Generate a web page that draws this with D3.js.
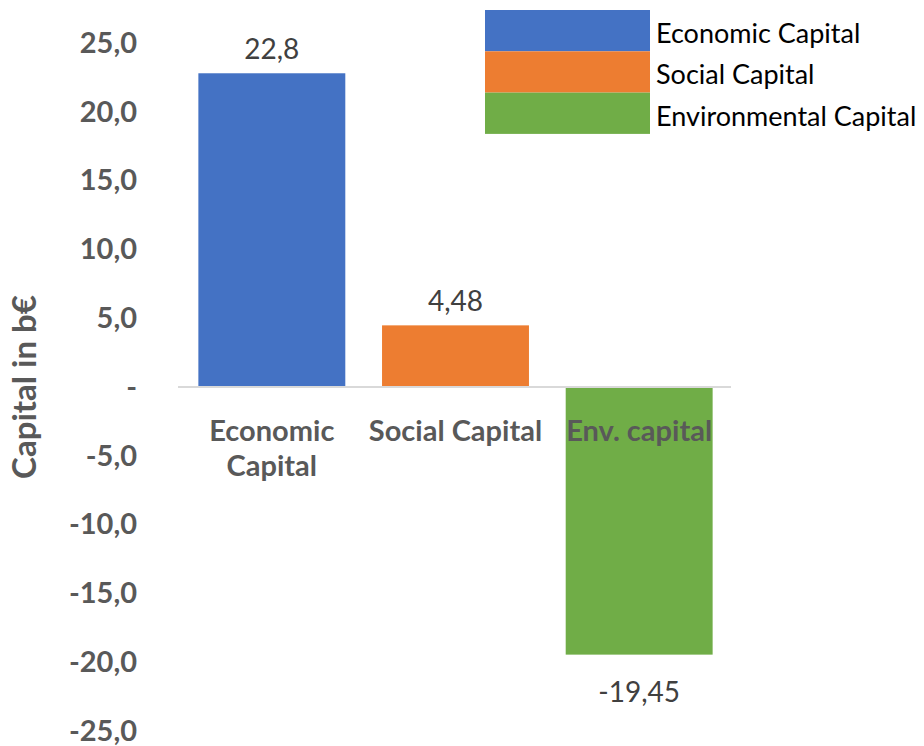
<!DOCTYPE html>
<html><head><meta charset="utf-8">
<script src="https://cdn.jsdelivr.net/npm/d3@7"></script>
<style>body{margin:0;background:#fff}svg{display:block}</style>
</head><body>
<script>
const categories = ["Economic Capital", "Social Capital", "Env. capital"];
const values = [22.8, 4.48, -19.45];
const valueLabels = ["22,8", "4,48", "-19,45"];
const colors = ["#4472C4", "#ED7D31", "#70AD47"];
const legendNames = ["Economic Capital", "Social Capital", "Environmental Capital"];
const yTicks = [-25, -20, -15, -10, -5, 0, 5, 10, 15, 20, 25];
const yTitle = "Capital in b€";

const W = 924, H = 746;
const svg = d3.select("body").append("svg").attr("width", W).attr("height", H);
const font = "Lato, 'Open Sans', sans-serif";

const y = d3.scaleLinear().domain([-25, 25]).range([731, 43]);
const x = d3.scaleBand().domain(categories).range([180, 731]).paddingInner(0.2).paddingOuter(0.1);

const fmt = v => v === 0 ? "-" : (v < 0 ? "-" : "") + Math.abs(v).toFixed(1).replace(".", ",");

// y axis labels
const yAxis = d3.axisLeft(y).tickValues(yTicks).tickFormat(fmt).tickSize(0).tickPadding(0);
const ga = svg.append("g").attr("transform", "translate(137,0)").call(yAxis);
ga.select(".domain").remove();
ga.selectAll("text").attr("font-family", font).attr("font-size", 29).attr("font-weight", "bold").attr("fill", "#595959");

// bars
svg.selectAll("rect.bar").data(values).join("rect").attr("class", "bar")
  .attr("x", (d, i) => x(categories[i]))
  .attr("width", x.bandwidth())
  .attr("y", d => y(Math.max(0, d)))
  .attr("height", d => Math.abs(y(d) - y(0)))
  .attr("fill", (d, i) => colors[i]);

// zero line
svg.append("line").attr("x1", 178).attr("x2", 731).attr("y1", y(0)).attr("y2", y(0))
  .attr("stroke", "#D9D9D9").attr("stroke-width", 2);

// category labels
const catLines = [["Economic", "Capital"], ["Social Capital"], ["Env. capital"]];
categories.forEach((c, i) => {
  const t = svg.append("text").attr("text-anchor", "middle")
    .attr("font-family", font).attr("font-size", 29).attr("font-weight", "bold").attr("fill", "#595959");
  catLines[i].forEach((ln, j) => {
    t.append("tspan").attr("x", x(c) + x.bandwidth() / 2).attr("y", 441 + j * 35).text(ln);
  });
});

// value labels
values.forEach((v, i) => {
  svg.append("text").attr("text-anchor", "middle")
    .attr("x", x(categories[i]) + x.bandwidth() / 2)
    .attr("y", v >= 0 ? y(v) - 14 : y(v) + 47)
    .attr("font-family", font).attr("font-size", 28).attr("fill", "#404040")
    .text(valueLabels[i]);
});

// y title
svg.append("text").attr("transform", "translate(36,387) rotate(-90)").attr("text-anchor", "middle")
  .attr("font-family", font).attr("font-size", 33).attr("font-weight", "bold").attr("fill", "#595959")
  .text(yTitle);

// legend
const lg = svg.append("g");
legendNames.forEach((n, i) => {
  lg.append("rect").attr("x", 485).attr("y", 10 + i * 41.3).attr("width", 165).attr("height", 41.3).attr("fill", colors[i]);
  lg.append("text").attr("x", 656).attr("y", 10 + i * 41.3 + 33).attr("font-family", font).attr("font-size", 27)
    .attr("fill", "#000").text(n);
});
</script>
</body></html>
